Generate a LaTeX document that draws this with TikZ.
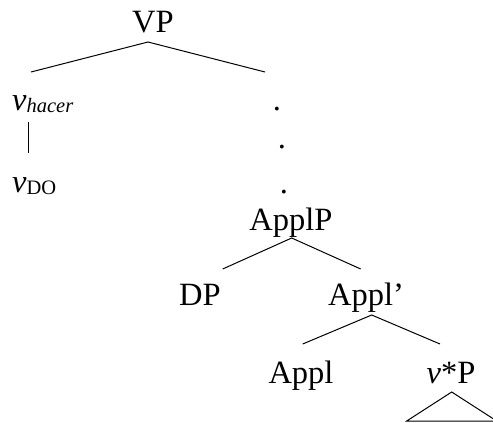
\documentclass[tikz,border=0pt]{standalone}
\usepackage{fontspec}
\setmainfont{Liberation Serif}
\newcommand\lowsub[1]{\raisebox{-2pt}{\fontsize{20.5}{21}\selectfont #1}}
\begin{document}
\begin{tikzpicture}[x=1pt,y=-1pt,
  lbl/.style={inner sep=0pt,anchor=base,font=\fontsize{32.5}{38}\selectfont},
  lblw/.style={lbl,anchor=base west},
  branch/.style={line width=1pt}]
\useasboundingbox (0,0) rectangle (493,423);
\clip (0,0) rectangle (493,423);

% labels
\node[lbl]  (vp)    at (153,32)  {VP};
\node[lblw] (vhac)  at (12,110)  {\itshape v\lowsub{\itshape hacer}};
\node[lblw] (vdo)   at (12,192)  {{\itshape v}\lowsub{DO}};
\node[lbl]  (d1)    at (277,110) {.};
\node[lbl]  (d2)    at (282,148) {.};
\node[lbl]  (d3)    at (284,193) {.};
\node[lbl]  (applp) at (291,230) {ApplP};
\node[lbl]  (dp)    at (200,305) {DP};
\node[lbl]  (applb) at (366,305) {Appl’};
\node[lbl]  (appl)  at (301,383) {Appl};
\node[lbl]  (vstar) at (451,383) {{\itshape v}*P};

% branch points
\coordinate (vpT) at (148,42);
\coordinate (vpL) at (31,72);
\coordinate (vpR) at (265,72);
\coordinate (vT)  at (28,122);
\coordinate (vB)  at (28,153);
\coordinate (apT) at (291.7,238);
\coordinate (apL) at (222.7,269);
\coordinate (apR) at (360.7,269);
\coordinate (abT) at (371.7,315);
\coordinate (abL) at (302.7,344);
\coordinate (abR) at (440,344);
\coordinate (trT) at (451.7,392);
\coordinate (trL) at (406.7,421);
\coordinate (trR) at (496.7,421);

% branches
\draw[branch] (vpL) -- (vpT) -- (vpR);
\draw[branch] (vT) -- (vB);
\draw[branch] (apL) -- (apT) -- (apR);
\draw[branch] (abL) -- (abT) -- (abR);
\draw[branch] (trL) -- (trT) -- (trR) -- cycle;
\end{tikzpicture}
\end{document}
